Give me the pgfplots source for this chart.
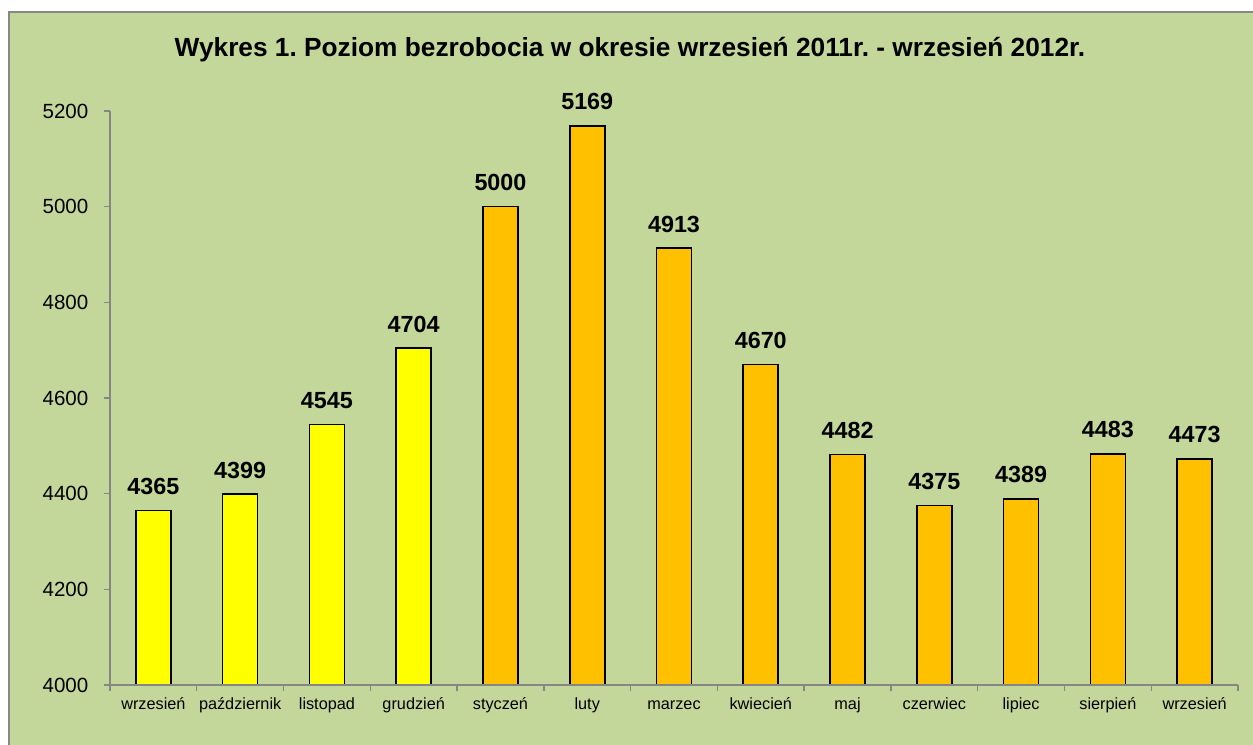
\documentclass[border=0pt]{standalone}
\usepackage{pgfplots}
\pgfplotsset{compat=1.18}
\usepackage{fontspec}
\setmainfont{Liberation Sans}
\frenchspacing
\definecolor{bg}{HTML}{C4D79B}
\definecolor{bordergray}{HTML}{878787}
\definecolor{axgray}{HTML}{868686}
\definecolor{baryellow}{HTML}{FFFF00}
\definecolor{barorange}{HTML}{FFC000}
\begin{document}
\begin{tikzpicture}
\clip (0,0) rectangle (939.75pt,558pt);
\fill[white] (0,0) rectangle (939.75pt,558pt);
\filldraw[fill=bg, draw=bordergray, line width=1.5pt] (6.75pt,-10pt) rectangle (950pt,549pt);
\node[anchor=base, font=\fontsize{19.7}{22}\selectfont\bfseries, inner sep=0pt] at (472.5pt,515.25pt) {Wykres 1. Poziom bezrobocia w okresie wrzesień 2011r. - wrzesień 2012r.};
\begin{axis}[
  at={(82.5pt,44.25pt)}, anchor=south west,
  scale only axis, width=846pt, height=430.5pt,
  xmin=-0.5, xmax=12.5, ymin=4000, ymax=5200,
  axis x line=bottom, axis y line=left,
  axis on top,
  axis line style={-, draw=axgray, line width=1pt},
  tick style={draw=axgray, line width=1pt},
  tick align=outside, major tick length=4.5pt,
  ytick={4000,4200,...,5200},
  xtick={-0.5,0.5,...,12.5},
  x tick label as interval,
  xticklabels={wrzesień,październik,listopad,grudzień,styczeń,luty,marzec,kwiecień,maj,czerwiec,lipiec,sierpień,wrzesień},
  xticklabel style={font=\fontsize{12.2}{14}\selectfont, anchor=base, yshift=-13.5pt},
  yticklabel style={font=\fontsize{15.4}{17}\selectfont, xshift=-8.25pt},
  /pgf/number format/assume math mode=true,
  /pgf/number format/1000 sep={},
  ybar, bar width=26.25pt, bar shift=0pt,
  nodes near coords,
  every node near coord/.append style={font=\fontsize{17.5}{20}\selectfont\bfseries, anchor=base, yshift=12pt, inner sep=0pt},
]
\addplot[draw=black, line width=1.2pt, fill=baryellow] coordinates {(0,4365) (1,4399) (2,4545) (3,4704)};
\addplot[draw=black, line width=1.2pt, fill=barorange] coordinates {(4,5000) (5,5169) (6,4913) (7,4670) (8,4482) (9,4375) (10,4389) (11,4483) (12,4473)};
\end{axis}
\end{tikzpicture}
\end{document}
